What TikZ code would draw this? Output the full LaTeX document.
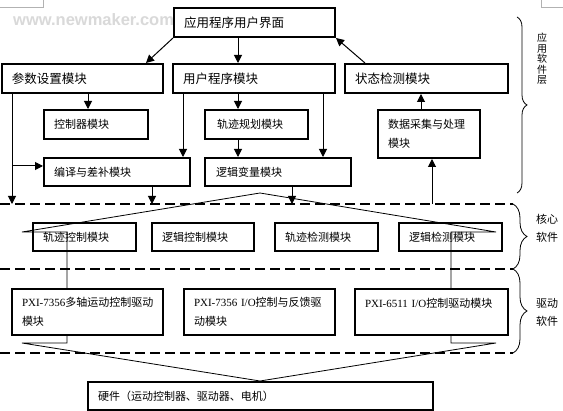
\documentclass[tikz,border=0pt]{standalone}
\usepackage{fontspec}
\setmainfont{Noto Sans CJK SC}
\newfontfamily\lat{Liberation Serif}
\newfontfamily\wm{Liberation Sans}
\usetikzlibrary{arrows.meta,decorations.pathreplacing,calc}
\begin{document}
\begin{tikzpicture}[x=1pt,y=-1pt,
  box/.style={draw, line width=2pt, anchor=north west, inner xsep=10pt, inner ysep=0pt, align=left},
  big/.style={font=\fontsize{12.5}{15}\selectfont},
  small/.style={font=\fontsize{11}{19}\selectfont},
  arr/.style={line width=1pt, -{Triangle[length=8pt,width=8pt]}},
  ln/.style={line width=0.8pt},
  layer/.style={line width=2pt, dash pattern=on 10pt off 5pt},
  bracestyle/.style={line width=0.8pt, decorate, decoration={brace, amplitude=#1}},
  bracestyle/.default=10,
  side/.style={font=\fontsize{11}{18}\selectfont, align=center, inner sep=0pt}
]
\useasboundingbox (0,0) rectangle (563,411);
\fill[white] (0,0) rectangle (563,411);

% watermark and corner marks
\node[anchor=west, font=\wm\bfseries\fontsize{16.5}{16.5}\selectfont, text=gray!30, inner sep=0pt] (wmk) at (13,20) {www.newmaker.com};
\draw[gray!60, line width=0.6pt] (0,7) -- (43,7) -- (43,0);
\draw[gray!60, line width=0.6pt] (541,0) -- (541,7) -- (563,7);

% application layer
\node[box,big,minimum width=161pt,minimum height=29pt,text width=141pt] (ui) at (173,7) {应用程序用户界面};
\node[box,big,minimum width=161pt,minimum height=29pt,text width=141pt] (param) at (1,63) {参数设置模块};
\node[box,big,minimum width=162pt,minimum height=29pt,text width=142pt] (user) at (172,63) {用户程序模块};
\node[box,big,minimum width=163pt,minimum height=29pt,text width=143pt] (state) at (344,63) {状态检测模块};
\node[box,small,minimum width=104pt,minimum height=29pt,text width=84pt] (ctrl) at (43,109) {控制器模块};
\node[box,small,minimum width=103pt,minimum height=29pt,text width=79pt,inner xsep=12pt] (traj) at (204,109) {轨迹规划模块};
\node[box,small,minimum width=102pt,minimum height=48pt,text width=82pt] (daq) at (377,109) {数据采集与处理\\模块};
\node[box,small,minimum width=146pt,minimum height=28pt,text width=126pt] (comp) at (43,157) {编译与差补模块};
\node[box,small,minimum width=146pt,minimum height=28pt,text width=124pt,inner xsep=11pt] (logic) at (204,157) {逻辑变量模块};

% core layer
\node[box,small,minimum width=103pt,minimum height=28pt,text width=83pt] (tc) at (32,222) {轨迹控制模块};
\node[box,small,minimum width=102pt,minimum height=28pt,text width=82pt] (lc) at (151,222) {逻辑控制模块};
\node[box,small,minimum width=103pt,minimum height=28pt,text width=83pt] (td) at (274,222) {轨迹检测模块};
\node[box,small,minimum width=103pt,minimum height=28pt,text width=83pt] (ld) at (398,222) {逻辑检测模块};

% driver layer
\node[box,small,minimum width=151pt,minimum height=46pt,text width=131pt] (d1) at (11,288) {\mbox{{\lat PXI-7356}多轴运动控制驱动}\\模块};
\node[box,small,minimum width=151pt,minimum height=46pt,text width=131pt] (d2) at (183,288) {\mbox{{\lat PXI-7356 I/O}控制与反馈驱}\\动模块};
\node[box,small,minimum width=153pt,minimum height=46pt,text width=133pt] (d3) at (354,288) {\mbox{{\lat PXI-6511 I/O}控制驱动模块}\\\mbox{}};

% hardware
\node[box,small,minimum width=345pt,minimum height=28pt,text width=325pt] (hw) at (87,381) {硬件（运动控制器、驱动器、电机）};

% layer separators
\draw[layer] (0,204) -- (513,204);
\draw[layer] (0,269) -- (513,269);
\draw[layer] (0,353) -- (513,353);

% braces and side labels
\draw[bracestyle=10] (517,17) -- (517,193);
\draw[bracestyle=14] (513,204) -- (513,269);
\draw[bracestyle=14] (513,269) -- (513,353);
\node[side, font=\fontsize{10}{10.5}\selectfont] (lab1) at (542,59) {应\\用\\软\\件\\层};
\node[side] (lab2) at (547,228) {核心\\软件};
\node[side] (lab3) at (547,312) {驱动\\软件};

% helper coordinates
\coordinate (x12) at (12,0);
\coordinate (x88) at (88,0);
\coordinate (x146) at (146,0);
\coordinate (x152) at (152,0);
\coordinate (x183) at (183,0);
\coordinate (x238) at (238,0);
\coordinate (x292) at (292,0);
\coordinate (x323) at (323,0);
\coordinate (x365) at (365,0);
\coordinate (x421) at (421,0);
\coordinate (x432) at (432,0);
\coordinate (x67) at (67,0);
\coordinate (x451) at (451,0);
\coordinate (x260) at (260,0);
\coordinate (p12) at (12,204);
\coordinate (p152) at (152,204);
\coordinate (p292) at (292,204);
\coordinate (p432) at (432,204);
\coordinate (br1) at (12,166);

% connectors
\draw[arr] (ui.south west) -- (param.north -| x146);
\draw[arr] (ui.south -| x238) -- (user.north -| x238);
\draw[arr] (state.north -| x365) -- (ui.south east);
\draw[arr] (param.south -| x88) -- (ctrl.north -| x88);
\draw[arr] (param.south -| x12) -- (p12);
\draw[arr] (br1) -- (br1 -| comp.west);
\draw[arr] (user.south -| x183) -- (comp.north -| x183);
\draw[arr] (user.south -| x238) -- (traj.north -| x238);
\draw[arr] (traj.south -| x238) -- (logic.north -| x238);
\draw[arr] (user.south -| x323) -- (logic.north -| x323);
\draw[arr] (comp.south -| x152) -- (p152);
\draw[arr] (logic.south -| x292) -- (p292);
\draw[arr] (p432) -- (daq.south -| x432);
\draw[arr] (daq.north -| x421) -- (state.south -| x421);

% fan lines
\coordinate (apex1) at (260,193);
\coordinate (fl) at (22,232);
\coordinate (fr) at (496,232);
\draw[ln] (d1.north -| x67) -- (fl -| x67) -- (fl) -- (apex1) -- (fr) -- (fr -| x451) -- (d3.north -| x451);
\coordinate (gl) at (22,343);
\coordinate (gr) at (496,343);
\draw[ln] (d1.south -| x67) -- (gl -| x67) -- (gl) -- (hw.north -| x260) -- (gr) -- (gr -| x451) -- (d3.south -| x451);
\end{tikzpicture}
\end{document}
